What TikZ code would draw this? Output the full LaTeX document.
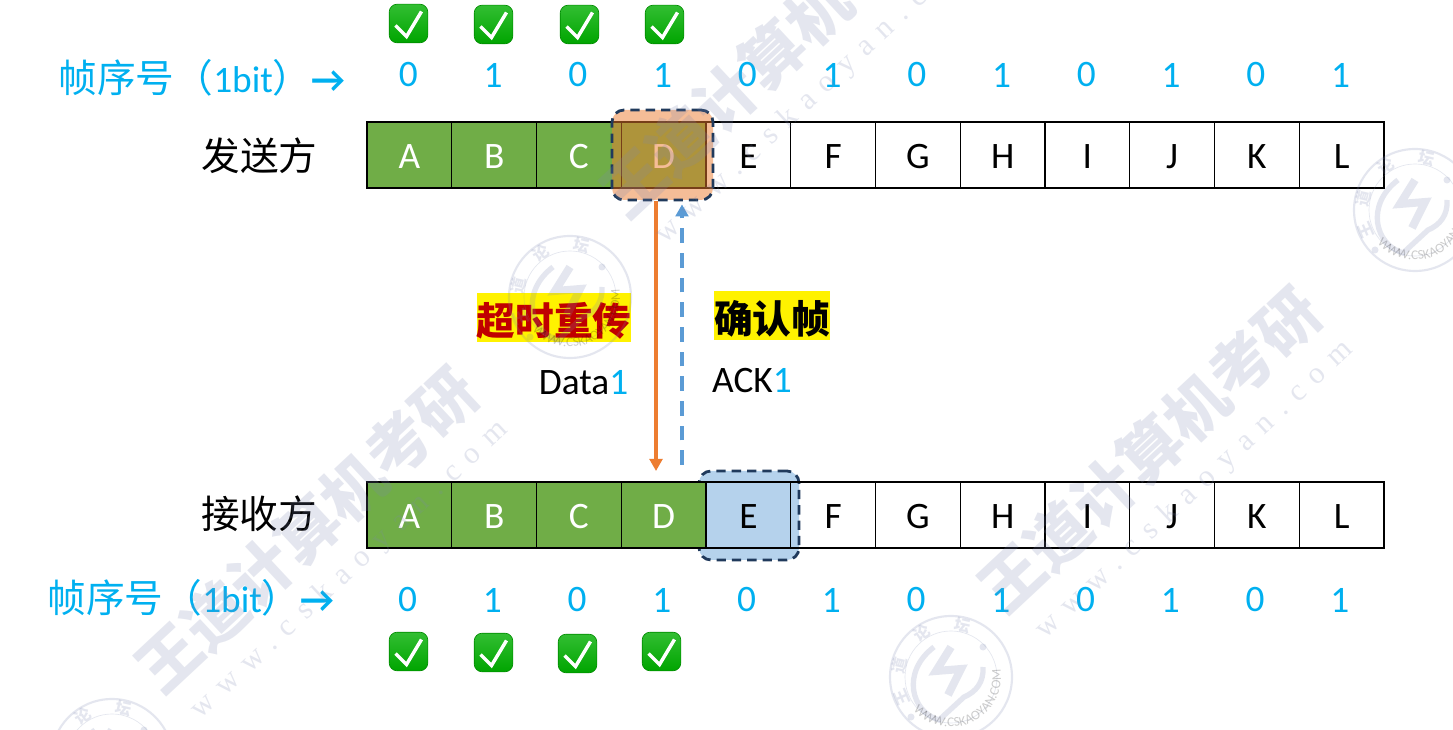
\documentclass[tikz,border=0pt]{standalone}
\usepackage{xcolor}
\usepackage{fontspec}
\setmainfont{Carlito}
\newfontfamily\cjk{Noto Sans CJK SC}
\newfontfamily\wmlatin[LetterSpace=38]{Liberation Serif}
\usetikzlibrary{arrows.meta,positioning,calc,decorations.text}
\definecolor{seqblue}{HTML}{00B0F0}
\definecolor{donegreen}{HTML}{70AD47}
\definecolor{sendorange}{HTML}{ED7D31}
\definecolor{ackblue}{HTML}{5B9BD5}
\definecolor{winnavy}{HTML}{203A5C}
\definecolor{markgray}{HTML}{7C86B0}
\newcommand{\bigfs}{\fontsize{28}{32}\selectfont}
\newcommand{\cjkfs}{\fontsize{29}{32}\selectfont}
\newcommand{\lowered}[2]{\raisebox{-#1}[\height][\depth]{#2}}

\tikzset{
    cellfree/.style={draw=black, line width=1pt, minimum width=63.56pt, minimum height=49.5pt, inner sep=0pt, font=\bigfs},
    celldone/.style={cellfree, fill=donegreen, text=white},
    seqbit/.style={text=seqblue, inner sep=0pt, font=\bigfs},
    sidelabel/.style={inner sep=0pt, font=\cjk\cjkfs},
    seqlabel/.style={inner sep=0pt, text=seqblue, font=\bigfs},
    framelabel/.style={inner sep=0pt, font=\bigfs},
    flaglabel/.style={fill=yellow, inner sep=0pt, minimum height=36.5pt, font=\cjk\bfseries\cjkfs},
    winbox/.style={draw=winnavy, line width=2.1pt, dash pattern=on 7pt off 4.5pt, rounded corners=9pt, inner sep=0pt},
    datatip/.style={-{Triangle[length=9pt,width=9.5pt]}},
    markword/.style={inner sep=0pt, rotate=43, font=\cjk\bfseries\fontsize{47}{50}\selectfont},
    markweb/.style={inner sep=0pt, rotate=43, font=\wmlatin\fontsize{23}{25}\selectfont},
    okmark/.pic={
        \node[draw=green!55!black, line width=0.5pt, rounded corners=6pt, minimum size=29pt, inner sep=0pt,
              top color={rgb,255:red,50;green,190;blue,50}, bottom color={rgb,255:red,0;green,165;blue,0}] (-box) {};
        \draw[white, line width=2.6pt] (-13,2) -- (-2,13) -- (13,-12);
    },
    sealmark/.pic={
        \draw[line width=1.6pt] (0,0) circle (61);
        \draw[line width=0.5pt] (0,0) circle (46);
        \draw[line width=4pt] (-17,-30) .. controls (-50,-5) and (-40,35) .. (-12,43) -- (13,20) .. controls (25,15) and (33,5) .. (32,-10);
        \draw[line width=6pt] (0,-30) -- (-15,-6) -- (10,-8) -- (-3,18);
        \fill (32,-30) circle (3.5);
        \fill (-40,40) circle (3.5);
        \foreach \a/\ch [evaluate=\a as \tilt using -(\a+90)] in {157/王,193/道,237/论,283/坛}
            \node[inner sep=0pt, rotate=\tilt, font=\cjk\bfseries\fontsize{12}{13}\selectfont] (-c\ch) at (\a:53) {\ch};
        \path[decorate, decoration={text along path, text align=center, text={WWW.CSKAOYAN.COM}, text format delimiters={|}{|}}]
            (150:50) arc (150:-20:50);
    },
}

\begin{document}
\begin{tikzpicture}[x=0.75pt, y=-0.75pt]
    \useasboundingbox[fill=white] (0,0) rectangle (1453,730);

    % receiver window sits under the cells
    \node[winbox, fill=ackblue!45, minimum width=75pt, minimum height=66.75pt] (eBox) at (749,515.5) {};

    % sender row
    \foreach \name/\bit [count=\i from 0] in {A/0,B/1,C/0,D/1,E/0,F/1,G/0,H/1,I/0,J/1,K/0,L/1} {
        \ifnum\i<4 \def\cellkind{celldone}\else\def\cellkind{cellfree}\fi
        \node[\cellkind] (s\name) at ({409.4+84.75*\i},155) {\lowered{1.5pt}{\name}};
        \node[seqbit] (sb\name) at ({408.4+84.75*\i},75) {\bit};
    }

    % receiver row
    \foreach \name/\bit [count=\i from 0] in {A/0,B/1,C/0,D/1,E/0,F/1,G/0,H/1,I/0,J/1,K/0,L/1} {
        \ifnum\i<4 \def\cellkind{celldone}\else\def\cellkind{cellfree}\fi
        \node[\cellkind] (r\name) at ({409.4+84.75*\i},515) {\lowered{1.5pt}{\name}};
        \node[seqbit] (rb\name) at ({407.6+84.75*\i},600) {\bit};
    }

    % sender window on top of the cells
    \node[winbox, fill=sendorange, fill opacity=0.5, text opacity=1, minimum width=75.75pt, minimum height=67.5pt] (dBox) at (662.5,155) {};

    \pic (okS1) at (408.5,23.5) {okmark};
    \pic (okS2) at (493.5,24.5) {okmark};
    \pic (okS3) at (579.5,24.5) {okmark};
    \pic (okS4) at (664.5,24.5) {okmark};
    \pic (okR1) at (408.5,651.5) {okmark};
    \pic (okR2) at (493.5,652.5) {okmark};
    \pic (okR3) at (577.5,653.5) {okmark};
    \pic (okR4) at (661.5,651.5) {okmark};

    \node[sidelabel] (sender) at (259.5,156) {发送方};
    \node[sidelabel] (receiver) at (259,514) {接收方};
    \node[seqlabel] (seqTop) at (202,78) {{\cjk\cjkfs 帧序号（}1bit{\cjk\cjkfs ）}{\bfseries →}};
    \node[seqlabel] (seqBottom) at (191,598) {{\cjk\cjkfs 帧序号（}1bit{\cjk\cjkfs ）}{\bfseries →}};

    \node[flaglabel, text={rgb,255:red,192;green,0;blue,0}, minimum width=114pt] (retryTag) at (554,317.5) {\lowered{2.5pt}{超时重传}};
    \node[flaglabel, text=black, minimum width=85.5pt] (ackTag) at (772,315.5) {\lowered{2.5pt}{确认帧}};
    \node[framelabel] (dataText) at (583.5,383) {Data{\color{seqblue}1}};
    \node[framelabel] (ackText) at (752,381) {ACK{\color{seqblue}1}};

    \coordinate (dataEnd) at (656,471);
    \coordinate (ackStart) at (682,465);
    \draw[sendorange, line width=2.4pt, datatip] (dBox.south -| dataEnd) -- (dataEnd);
    \draw[ackblue, line width=2.4pt, dash pattern=on 11pt off 7.5pt, datatip, shorten >=2.25pt] (ackStart) -- (ackStart |- dBox.south);

    % watermark goes over everything
    \begin{scope}[markgray, text=markgray, opacity=0.2]
        \node[markword] (wordA) at (307,530) {王道计算机考研};
        \node[markword] (wordB) at (772,55) {王道计算机考研};
        \node[markword] (wordC) at (1150,450) {王道计算机考研};
        \node[markweb] (webA) at (350,570) {www.cskaoyan.com};
        \node[markweb] (webB) at (815,95) {www.cskaoyan.com};
        \node[markweb] (webC) at (1195,490) {www.cskaoyan.com};
        \pic (sealA) at (570,297) {sealmark};
        \pic (sealB) at (951,677) {sealmark};
        \pic (sealC) at (1415,210) {sealmark};
        \pic (sealD) at (112,760) {sealmark};
    \end{scope}
\end{tikzpicture}
\end{document}
